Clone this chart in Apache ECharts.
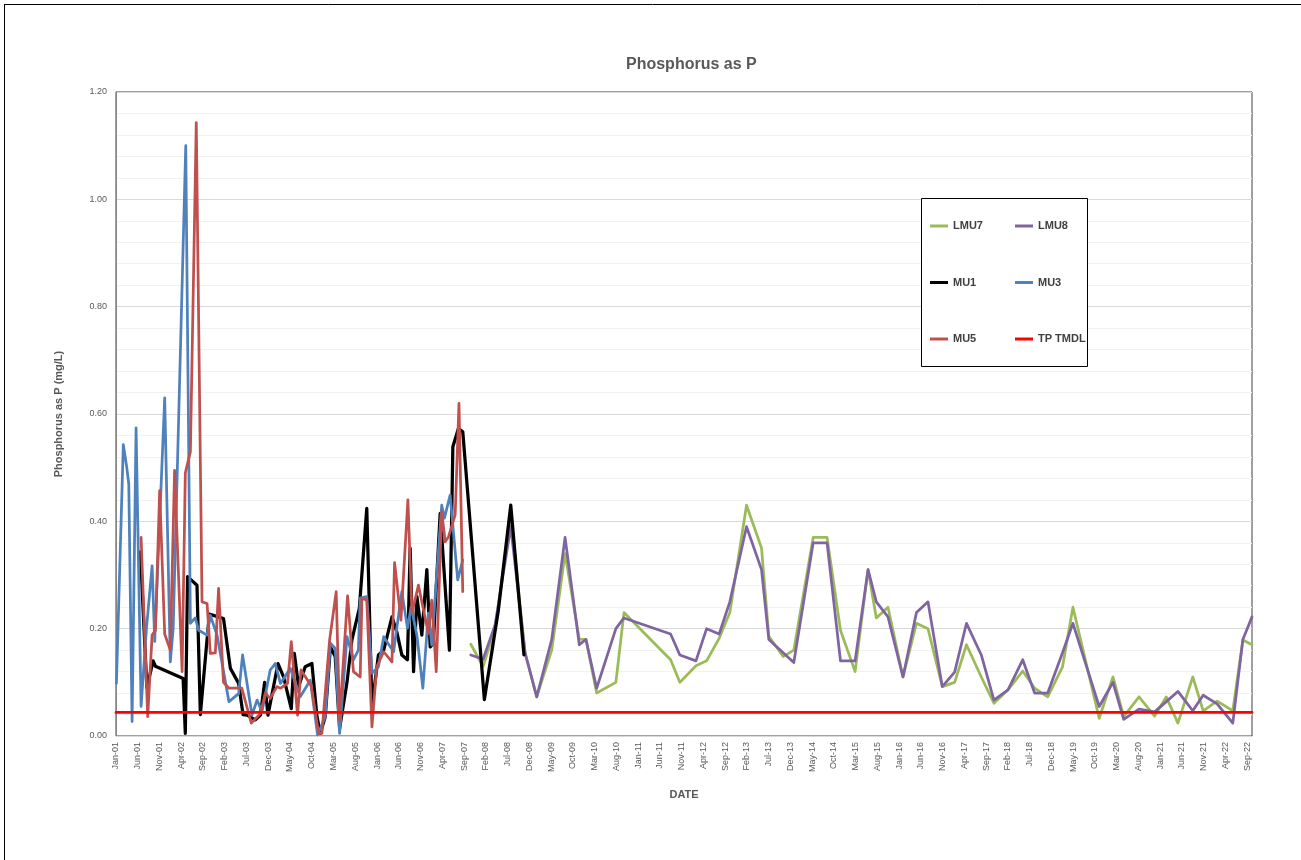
<!DOCTYPE html>
<html>
<head>
<meta charset="utf-8">
<title>Phosphorus as P</title>
<script src="https://cdn.jsdelivr.net/npm/echarts@6/dist/echarts.min.js"></script>
<style>
  html, body { margin: 0; padding: 0; background: #ffffff; }
  #chart { width: 1301px; height: 860px; }
</style>
</head>
<body>
<div id="chart"></div>
<script>
// Sampling dates and total phosphorus results (mg/L) per station.
const mu1Dates = ['2001-06-19','2001-08-04','2001-09-17','2001-10-03','2002-04-14','2002-04-29','2002-05-15','2002-07-20','2002-08-13','2002-10-15',
  '2003-01-23','2003-03-10','2003-05-07','2003-06-07','2003-07-05','2003-09-02','2003-10-07','2003-11-06','2003-11-29','2004-02-08',
  '2004-03-17','2004-05-10','2004-06-01','2004-06-30','2004-08-16','2004-10-02','2004-11-07','2004-11-30','2005-01-04','2005-02-09',
  '2005-03-13','2005-04-13','2005-06-04','2005-07-08','2005-08-30','2005-10-21','2005-11-26','2006-01-11','2006-02-16','2006-04-14',
  '2006-05-18','2006-06-22','2006-08-01','2006-08-20','2006-09-13','2006-10-06','2006-11-10','2006-12-15','2007-01-08','2007-01-30',
  '2007-03-17','2007-05-21','2007-06-14','2007-07-23','2007-08-23','2008-01-22','2008-04-28','2008-07-24','2008-10-25'];
const mu1Values = [0.343,0.09,0.14,0.13,0.107,0.005,0.297,0.281,0.04,0.227,
  0.219,0.126,0.098,0.04,0.039,0.03,0.039,0.10,0.039,0.135,
  0.11,0.051,0.154,0.092,0.129,0.135,0.036,0.005,0.036,0.166,
  0.148,0.014,0.10,0.179,0.238,0.424,0.055,0.151,0.16,0.222,
  0.194,0.151,0.142,0.35,0.12,0.26,0.188,0.31,0.166,0.173,
  0.415,0.16,0.539,0.573,0.567,0.068,0.235,0.43,0.151];

const mu3Dates = ['2001-01-04','2001-02-20','2001-03-16','2001-03-30','2001-04-22','2001-05-20','2001-06-24','2001-08-01','2001-09-10','2001-09-28',
  '2001-12-07','2002-01-16','2002-02-05','2002-05-02','2002-06-04','2002-07-08','2002-08-01','2002-09-29','2002-10-22','2002-12-08',
  '2003-02-28','2003-05-07','2003-06-04','2003-08-09','2003-09-14','2003-10-18','2003-12-15','2004-01-20','2004-02-24','2004-05-03',
  '2004-07-12','2004-09-21','2004-11-11','2005-01-04','2005-02-09','2005-03-13','2005-04-13','2005-06-04','2005-07-19','2005-08-23',
  '2005-09-05','2005-10-21','2005-11-26','2006-01-11','2006-02-16','2006-04-25','2006-06-22','2006-08-01','2006-08-27','2006-10-06',
  '2006-11-17','2006-12-26','2007-01-19','2007-03-28','2007-04-16','2007-05-26','2007-07-18','2007-08-23'];
const mu3Values = [0.098,0.543,0.50,0.47,0.027,0.574,0.055,0.20,0.317,0.176,
  0.63,0.138,0.20,1.10,0.21,0.22,0.197,0.188,0.225,0.188,
  0.064,0.079,0.151,0.039,0.067,0.045,0.123,0.135,0.098,0.126,
  0.073,0.104,0.002,0.036,0.173,0.163,0.005,0.185,0.142,0.16,
  0.257,0.26,0.117,0.129,0.185,0.157,0.269,0.201,0.241,0.188,
  0.089,0.229,0.17,0.43,0.406,0.449,0.291,0.328];

const mu5Dates = ['2001-06-24','2001-08-10','2001-09-10','2001-10-03','2001-11-02','2001-12-07','2002-01-16','2002-02-14','2002-04-07','2002-04-29',
  '2002-06-04','2002-07-15','2002-08-25','2002-09-29','2002-10-22','2002-11-26','2002-12-19','2003-01-23','2003-02-28','2003-05-30',
  '2003-08-04','2003-10-07','2003-11-11','2003-12-15','2004-02-01','2004-02-24','2004-04-14','2004-05-10','2004-06-23','2004-07-17',
  '2004-09-28','2004-11-18','2004-12-11','2005-02-04','2005-03-20','2005-04-13','2005-06-08','2005-07-19','2005-09-05','2005-09-17',
  '2005-10-21','2005-11-26','2005-12-30','2006-02-16','2006-04-14','2006-05-02','2006-06-16','2006-08-04','2006-09-02','2006-10-17',
  '2006-12-26','2007-01-19','2007-02-18','2007-03-28','2007-04-21','2007-05-14','2007-06-30','2007-07-27','2007-08-23'];
const mu5Values = [0.37,0.036,0.188,0.197,0.457,0.19,0.16,0.495,0.12,0.49,
  0.53,1.143,0.25,0.247,0.154,0.155,0.275,0.10,0.089,0.089,
  0.024,0.042,0.08,0.07,0.092,0.089,0.098,0.176,0.039,0.123,
  0.093,0.005,0.005,0.179,0.269,0.03,0.261,0.12,0.11,0.257,
  0.253,0.017,0.129,0.157,0.138,0.323,0.216,0.44,0.229,0.281,
  0.191,0.253,0.12,0.418,0.362,0.371,0.412,0.62,0.269];

const lmuDates = ['2007-10-18','2008-01-13','2008-04-05','2008-07-24','2008-11-02','2009-01-23','2009-05-06','2009-08-08','2009-11-16','2010-01-02',
  '2010-03-16','2010-07-29','2010-09-24','2011-08-16','2011-10-20','2012-02-10','2012-04-24','2012-07-21','2012-10-04','2013-01-30',
  '2013-05-13','2013-07-03','2013-10-12','2013-12-26','2014-05-09','2014-08-15','2014-11-17','2015-02-26','2015-05-28','2015-07-25',
  '2015-10-15','2016-01-29','2016-05-01','2016-07-21','2016-10-30','2017-01-25','2017-04-16','2017-07-29','2017-10-26','2018-02-02',
  '2018-05-14','2018-08-06','2018-11-06','2019-02-17','2019-04-30','2019-11-01','2020-02-06','2020-04-20','2020-08-06','2020-11-23',
  '2021-02-13','2021-05-04','2021-08-17','2021-10-29','2022-02-04','2022-05-23','2022-08-02','2022-10-05'];
const lmu7Values = [0.171,0.13,0.20,0.41,0.155,0.073,0.16,0.34,0.18,0.18,
  0.08,0.10,0.23,0.142,0.10,0.131,0.14,0.182,0.23,0.43,
  0.35,0.186,0.148,0.16,0.37,0.37,0.197,0.12,0.31,0.22,
  0.24,0.11,0.21,0.20,0.092,0.10,0.17,0.11,0.061,0.086,
  0.121,0.089,0.073,0.129,0.24,0.033,0.11,0.036,0.073,0.037,
  0.073,0.024,0.11,0.047,0.065,0.047,0.179,0.17];
const lmu8Values = [0.151,0.143,0.207,0.39,0.155,0.073,0.18,0.37,0.17,0.18,
  0.089,0.20,0.22,0.19,0.151,0.14,0.20,0.19,0.25,0.39,
  0.31,0.18,0.155,0.137,0.36,0.36,0.14,0.14,0.31,0.25,
  0.222,0.11,0.23,0.25,0.092,0.119,0.21,0.151,0.067,0.086,
  0.142,0.08,0.08,0.155,0.21,0.055,0.10,0.031,0.05,0.045,
  0.064,0.083,0.047,0.076,0.06,0.024,0.18,0.222];

// Total phosphorus TMDL target (mg/L)
const tpTmdl = 0.044;

// Date axis extent and tick labels
const axisStart = '2001-01-01';
const axisEnd = '2022-10-05';
const monthNames = ['Jan','Feb','Mar','Apr','May','Jun','Jul','Aug','Sep','Oct','Nov','Dec'];
const yTickStep = 0.2;

// Months elapsed since January 2001 (fractional)
function toMonth(s) {
  const p = s.split('-').map(Number);
  const dim = new Date(p[0], p[1], 0).getDate();
  return (p[0] - 2001) * 12 + (p[1] - 1) + (p[2] - 1) / dim;
}
function pairs(dates, values) {
  return dates.map((d, i) => [toMonth(d), values[i]]);
}
function monthLabel(m) {
  const yr = 2001 + Math.floor(m / 12);
  return monthNames[m % 12] + '-' + String(yr % 100).padStart(2, '0');
}

const xMin = toMonth(axisStart);
const xMax = toMonth(axisEnd);
const FONT = '"Liberation Sans", Arial, sans-serif';
const TXT = '#595959';

const lineSeries = (name, data, color, width) => ({
  name, type: 'line', data, showSymbol: false, symbol: 'none',
  lineStyle: { color, width, join: 'round', cap: 'round' },
  itemStyle: { color },
  emphasis: { disabled: true }, silent: true
});

const legendCommon = {
  orient: 'vertical', itemGap: 45.5, icon: 'rect', itemWidth: 18, itemHeight: 3, padding: 0,
  textStyle: { fontFamily: FONT, fontSize: 11, fontWeight: 'bold', color: '#404040' },
  selectedMode: false, z: 5
};

const chart = echarts.init(document.getElementById('chart'), null, { renderer: 'canvas' });
chart.setOption({
  animation: false,
  backgroundColor: '#ffffff',
  title: {
    text: 'Phosphorus as P', left: 621, top: 52,
    textStyle: { fontFamily: FONT, fontSize: 16, fontWeight: 'bold', color: TXT }
  },
  legend: [
    Object.assign({ left: 930, top: 220.5, data: ['LMU7', 'MU1', 'MU5'] }, legendCommon),
    Object.assign({ left: 1015, top: 220.5, data: ['LMU8', 'MU3', 'TP TMDL'] }, legendCommon)
  ],
  graphic: [
    { type: 'rect', z: 4, shape: { x: 921.5, y: 198.5, width: 166, height: 168 },
      style: { fill: '#ffffff', stroke: '#000000', lineWidth: 1 } },
    { type: 'line', z: 4, shape: { x1: 4, y1: 4.5, x2: 1301, y2: 4.5 }, style: { stroke: '#000000', lineWidth: 1 } },
    { type: 'line', z: 4, shape: { x1: 4.5, y1: 4, x2: 4.5, y2: 860 }, style: { stroke: '#000000', lineWidth: 1 } }
  ],
  grid: { left: 116, right: 49, top: 92, bottom: 124, show: true, borderColor: '#404040', borderWidth: 1, backgroundColor: '#ffffff' },
  xAxis: {
    type: 'value', min: xMin, max: xMax, interval: 5,
    name: 'DATE', nameLocation: 'middle', nameGap: 53,
    nameTextStyle: { fontFamily: FONT, fontSize: 11, fontWeight: 'bold', color: TXT },
    axisLine: { show: true, onZero: false, lineStyle: { color: '#d9d9d9', width: 1 } },
    axisTick: { show: false },
    splitLine: { show: false },
    axisLabel: {
      rotate: 90, margin: 6, showMaxLabel: false,
      fontFamily: FONT, fontSize: 9, color: TXT,
      formatter: v => (Number.isInteger(v) && v % 5 === 0) ? monthLabel(v) : ''
    }
  },
  yAxis: {
    type: 'value', min: 0, max: 1.2, interval: yTickStep,
    name: 'Phosphorus as P (mg/L)', nameLocation: 'middle', nameGap: 52,
    nameTextStyle: { fontFamily: FONT, fontSize: 11, fontWeight: 'bold', color: TXT },
    axisLine: { show: true, lineStyle: { color: '#868686', width: 1 } },
    axisTick: { show: false },
    axisLabel: { fontFamily: FONT, fontSize: 9, color: TXT, margin: 9, formatter: v => v.toFixed(2) },
    splitLine: { show: true, lineStyle: { color: '#d9d9d9', width: 1 } },
    minorTick: { show: false, splitNumber: 5 },
    minorSplitLine: { show: true, lineStyle: { color: '#f2f2f2', width: 1 } }
  },
  series: [
    lineSeries('LMU7', pairs(lmuDates, lmu7Values), '#9BBB59', 2.75),
    lineSeries('LMU8', pairs(lmuDates, lmu8Values), '#8064A2', 2.75),
    lineSeries('MU1', pairs(mu1Dates, mu1Values), '#000000', 3.25),
    lineSeries('MU3', pairs(mu3Dates, mu3Values), '#4F81BD', 2.75),
    lineSeries('MU5', pairs(mu5Dates, mu5Values), '#C0504D', 2.75),
    lineSeries('TP TMDL', [[xMin, tpTmdl], [xMax, tpTmdl]], '#FF0000', 2.75)
  ]
});
</script>
</body>
</html>
